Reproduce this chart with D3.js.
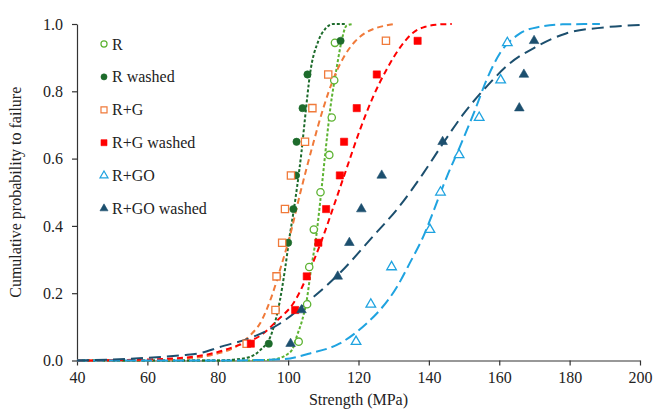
<!DOCTYPE html>
<html>
<head>
<meta charset="utf-8">
<script src="https://cdn.jsdelivr.net/npm/d3@7"></script>
<style>
  html, body { margin: 0; padding: 0; background: #fff; }
  #chart text { font-family: "Liberation Serif", "Times New Roman", serif; fill: #222; }
</style>
</head>
<body>
<div id="chart"></div>
<script>
// measured points (strength MPa, cumulative probability)
const pointsR = [[103.0, 0.056], [105.4, 0.167], [106.0, 0.278], [107.3, 0.389], [109.2, 0.5], [111.7, 0.611], [112.4, 0.722], [113.1, 0.833], [113.3, 0.944]];
const pointsRW = [[94.5, 0.05], [96.5, 0.15], [96.9, 0.25], [100.0, 0.35], [101.5, 0.45], [102.2, 0.55], [102.4, 0.65], [104.1, 0.75], [105.5, 0.85], [114.9, 0.95]];
const pointsRG = [[88.2, 0.05], [96.4, 0.15], [96.7, 0.25], [98.3, 0.35], [99.1, 0.45], [100.8, 0.55], [104.8, 0.65], [106.9, 0.75], [111.4, 0.85], [127.8, 0.95]];
const pointsRGW = [[89.4, 0.05], [102.0, 0.15], [105.3, 0.25], [108.6, 0.35], [110.8, 0.45], [114.7, 0.55], [115.9, 0.65], [119.5, 0.75], [125.2, 0.85], [136.8, 0.95]];
const pointsRGO = [[119.3, 0.056], [123.5, 0.167], [129.4, 0.278], [140.3, 0.389], [143.3, 0.5], [148.6, 0.611], [154.3, 0.722], [160.4, 0.833], [162.3, 0.944]];
const pointsRGOW = [[100.7, 0.05], [103.8, 0.15], [114.1, 0.25], [117.4, 0.35], [120.8, 0.45], [126.6, 0.55], [143.9, 0.65], [165.7, 0.75], [167.0, 0.85], [169.9, 0.95]];

// fitted curves
const fitR = [[40, 0], [85, 0], [95, 0.002], [100, 0.02], [101.5, 0.04], [102.4, 0.07], [104, 0.12], [105.3, 0.18], [106.5, 0.27], [108, 0.37], [109.2, 0.48], [110.5, 0.61], [112, 0.75], [113.8, 0.87], [115.2, 0.95], [116.6, 0.995], [118.4, 1]];
const fitRW = [[40, 0], [80, 0], [85, 0.003], [89.2, 0.011], [92, 0.03], [95.3, 0.08], [97.7, 0.18], [99.1, 0.27], [100.3, 0.36], [101.5, 0.44], [102.6, 0.52], [103.8, 0.62], [104.8, 0.72], [106.2, 0.85], [108.6, 0.95], [110.5, 0.985], [112.8, 1], [116.2, 1]];
const fitRG = [[40, 0], [60, 0.001], [70, 0.005], [79.7, 0.02], [85, 0.04], [89.2, 0.075], [92, 0.11], [95.3, 0.19], [98, 0.28], [100.5, 0.37], [103.5, 0.5], [107, 0.64], [110, 0.75], [113, 0.84], [116, 0.905], [119, 0.948], [122, 0.974], [125, 0.988], [128, 0.996], [130, 1]];
const fitRGW = [[40, 0], [60, 0.003], [70, 0.008], [78, 0.02], [84.4, 0.04], [92.9, 0.08], [97, 0.12], [101.5, 0.17], [106.2, 0.27], [110, 0.37], [113, 0.46], [116.6, 0.57], [120.4, 0.685], [124.2, 0.785], [128, 0.865], [131.8, 0.93], [135.6, 0.975], [139, 0.992], [142, 0.998], [146.5, 1]];
const fitRGO = [[40, 0], [80, 0], [90, 0.001], [98.6, 0.004], [106.2, 0.021], [114.7, 0.051], [122.3, 0.11], [126.1, 0.15], [131, 0.22], [134.6, 0.29], [138.9, 0.38], [140.8, 0.43], [145.1, 0.546], [148.8, 0.635], [153.1, 0.744], [156.4, 0.834], [160.2, 0.913], [165.9, 0.972], [171.6, 0.992], [178, 0.999], [188.6, 1]];
const fitRGOW = [[40, 0], [50, 0.003], [60, 0.008], [70, 0.016], [75, 0.022], [80.6, 0.04], [90, 0.07], [97.7, 0.11], [106.2, 0.18], [114.7, 0.26], [124.2, 0.37], [131, 0.45], [138.4, 0.556], [144, 0.645], [150, 0.735], [156.4, 0.814], [163, 0.883], [170.6, 0.933], [179, 0.972], [190, 0.99], [200, 0.997]];

const seriesNames = ["R", "R washed", "R+G", "R+G washed", "R+GO", "R+GO washed"];
const xTicks = [40, 60, 80, 100, 120, 140, 160, 180, 200];
const yTicks = [0, 0.2, 0.4, 0.6, 0.8, 1.0];

const width = 654;
const height = 410;

const styles = [
    { color: "#5db332", symbol: d3.symbolCircle, open: true, dash: "3,2", size: 42 },
    { color: "#1d6b2b", symbol: d3.symbolCircle, open: false, dash: "3,2", size: 42 },
    { color: "#f07a3a", symbol: d3.symbolSquare, open: true, dash: "6,4", size: 52 },
    { color: "#ff0000", symbol: d3.symbolSquare, open: false, dash: "6,4", size: 52 },
    { color: "#1fa3e0", symbol: d3.symbolTriangle, open: true, dash: "11,5", size: 40 },
    { color: "#1c4f6e", symbol: d3.symbolTriangle, open: false, dash: "12,6", size: 40 }
];
const allPoints = [pointsR, pointsRW, pointsRG, pointsRGW, pointsRGO, pointsRGOW];
const allFits = [fitR, fitRW, fitRG, fitRGW, fitRGO, fitRGOW];

const series = seriesNames.map((name, i) => ({
    name, points: allPoints[i], fit: allFits[i], ...styles[i]
}));

const svg = d3.select("#chart").append("svg")
    .attr("width", width)
    .attr("height", height);

const x = d3.scaleLinear().domain([40, 200]).range([77, 640]);
const y = d3.scaleLinear().domain([0, 1]).range([360.5, 24]);

// axes
const xAxis = svg.append("g")
    .attr("transform", `translate(0,${y(0)})`)
    .call(d3.axisBottom(x).tickValues(xTicks).tickSize(5).tickSizeOuter(0).tickPadding(6));
const yAxis = svg.append("g")
    .attr("transform", `translate(${x(40)},0)`)
    .call(d3.axisLeft(y).tickValues(yTicks).tickFormat(d3.format(".1f")).tickSize(5).tickSizeOuter(0).tickPadding(9));

[xAxis, yAxis].forEach(g => {
    g.select(".domain").attr("stroke", "#333").attr("stroke-width", 1.2);
    g.selectAll(".tick line").attr("stroke", "#333").attr("stroke-width", 1.2);
    g.selectAll(".tick text").style("font-size", "16px");
});

svg.append("text")
    .attr("x", (x(40) + x(200)) / 2)
    .attr("y", 405)
    .attr("text-anchor", "middle")
    .style("font-size", "16px")
    .text("Strength (MPa)");

svg.append("text")
    .attr("transform", `translate(21,${(y(0) + y(1)) / 2}) rotate(-90)`)
    .attr("text-anchor", "middle")
    .style("font-size", "16px")
    .text("Cumulative probability to failure");

// fitted curves
const line = d3.line()
    .x(d => x(d[0]))
    .y(d => y(d[1]))
    .curve(d3.curveMonotoneX);

svg.append("g").selectAll("path")
    .data(series)
    .join("path")
    .attr("d", d => line(d.fit))
    .attr("fill", "none")
    .attr("stroke", d => d.color)
    .attr("stroke-width", 2)
    .attr("stroke-dasharray", d => d.dash);

// measured points
series.forEach(s => {
    svg.append("g").selectAll("path")
        .data(s.points)
        .join("path")
        .attr("transform", d => `translate(${x(d[0])},${y(d[1])})`)
        .attr("d", d3.symbol().type(s.symbol).size(s.size))
        .attr("fill", s.open ? "#fff" : s.color)
        .attr("stroke", s.color)
        .attr("stroke-width", s.open ? 1.3 : 0.6);
});

// legend
const legend = svg.append("g").attr("transform", "translate(104,44)");
const rows = legend.selectAll("g")
    .data(series)
    .join("g")
    .attr("transform", (d, i) => `translate(0,${i * 32.9})`);

rows.append("path")
    .attr("d", d => d3.symbol().type(d.symbol).size(d.size * 0.7)())
    .attr("fill", d => d.open ? "#fff" : d.color)
    .attr("stroke", d => d.color)
    .attr("stroke-width", d => d.open ? 1.2 : 0.6);

rows.append("text")
    .attr("x", 8)
    .attr("y", 5.5)
    .style("font-size", "16px")
    .text(d => d.name);
</script>
</body>
</html>
